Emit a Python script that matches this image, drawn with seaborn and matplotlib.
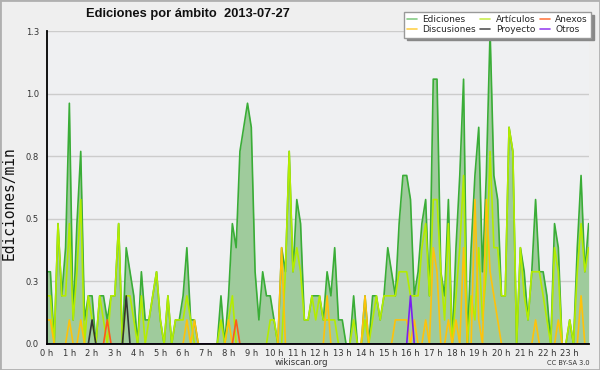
import numpy as np
import pandas as pd
import matplotlib
matplotlib.use("Agg")
import matplotlib.pyplot as plt
from matplotlib.lines import Line2D
from matplotlib.patches import Rectangle
from matplotlib.ticker import MultipleLocator
import seaborn as sns

# ---------------- data (edits per minute, 10-minute bins) ----------------
ediciones = [0.3, 0.3, 0.0, 0.5, 0.2, 0.4, 1.0, 0.1, 0.5, 0.8,
             0.1, 0.2, 0.2, 0.0, 0.2, 0.2, 0.1, 0.2, 0.2, 0.5,
             0.0, 0.4, 0.3, 0.2, 0.0, 0.3, 0.1, 0.1, 0.2, 0.3,
             0.1, 0.0, 0.2, 0.0, 0.1, 0.1, 0.2, 0.4, 0.1, 0.1,
             0.0, 0.0, 0.0, 0.0, 0.0, 0.0, 0.2, 0.0, 0.2, 0.5,
             0.4, 0.8, 0.9, 1.0, 0.9, 0.3, 0.1, 0.3, 0.2, 0.2,
             0.1, 0.0, 0.4, 0.3, 0.8, 0.3, 0.6, 0.5, 0.1, 0.1,
             0.2, 0.2, 0.2, 0.1, 0.3, 0.2, 0.4, 0.1, 0.1, 0.0,
             0.0, 0.2, 0.0, 0.0, 0.2, 0.0, 0.2, 0.2, 0.1, 0.2,
             0.4, 0.3, 0.2, 0.5, 0.7, 0.7, 0.6, 0.2, 0.3, 0.5,
             0.6, 0.2, 1.1, 1.1, 0.3, 0.2, 0.6, 0.0, 0.4, 0.7,
             1.1, 0.0, 0.4, 0.7, 0.9, 0.3, 0.7, 1.3, 0.7, 0.6,
             0.2, 0.2, 0.9, 0.8, 0.0, 0.4, 0.3, 0.1, 0.3, 0.6,
             0.3, 0.3, 0.2, 0.0, 0.5, 0.4, 0.0, 0.0, 0.1, 0.0,
             0.4, 0.7, 0.3, 0.5]

articulos = [0.2, 0.2, 0.0, 0.5, 0.2, 0.2, 0.5, 0.1, 0.3, 0.6,
             0.0, 0.2, 0.1, 0.0, 0.2, 0.1, 0.0, 0.2, 0.2, 0.5,
             0.0, 0.2, 0.2, 0.1, 0.0, 0.2, 0.0, 0.1, 0.2, 0.3,
             0.1, 0.0, 0.2, 0.0, 0.1, 0.1, 0.1, 0.2, 0.1, 0.0,
             0.0, 0.0, 0.0, 0.0, 0.0, 0.0, 0.1, 0.0, 0.1, 0.2,
             0.0, 0.0, 0.0, 0.0, 0.0, 0.0, 0.0, 0.0, 0.0, 0.1,
             0.1, 0.0, 0.0, 0.3, 0.8, 0.3, 0.4, 0.3, 0.1, 0.1,
             0.2, 0.1, 0.2, 0.1, 0.1, 0.1, 0.1, 0.0, 0.0, 0.0,
             0.0, 0.1, 0.0, 0.0, 0.1, 0.0, 0.1, 0.2, 0.1, 0.2,
             0.2, 0.2, 0.2, 0.3, 0.3, 0.3, 0.2, 0.2, 0.2, 0.4,
             0.5, 0.2, 0.6, 0.6, 0.3, 0.1, 0.5, 0.0, 0.2, 0.4,
             0.7, 0.0, 0.2, 0.1, 0.4, 0.1, 0.3, 0.8, 0.4, 0.4,
             0.2, 0.2, 0.9, 0.8, 0.0, 0.4, 0.2, 0.1, 0.3, 0.3,
             0.3, 0.2, 0.1, 0.0, 0.4, 0.3, 0.0, 0.0, 0.1, 0.0,
             0.3, 0.5, 0.3, 0.4]

# sparse series: time of bin -> edits/min (all other bins are 0)
discusiones_t = ["00:00", "00:10", "01:00", "01:30", "06:10", "06:30", "08:00",
                 "10:20", "12:20", "14:00", "15:20", "15:30", "15:40", "15:50",
                 "16:10", "16:40", "17:00", "17:10", "17:40", "18:00", "18:20",
                 "18:50", "19:00", "19:20", "19:30", "19:40", "19:50", "21:30",
                 "22:30", "23:30"]
discusiones_v = [0.1, 0.1, 0.1, 0.1, 0.1, 0.1, 0.1,
                 0.4, 0.2, 0.2, 0.1, 0.1, 0.1, 0.1,
                 0.1, 0.1, 0.4, 0.3, 0.1, 0.1, 0.4,
                 0.6, 0.1, 0.6, 0.3, 0.2, 0.1, 0.1,
                 0.1, 0.2]
anexos_t = ["02:40", "08:20"]
anexos_v = [0.1, 0.1]
proyecto_t = ["02:00", "03:30"]
proyecto_v = [0.1, 0.2]
otros_t = ["16:00"]
otros_v = [0.2]

hour_labels = [f"{h} h" for h in range(24)]
y_ticks = [0.0, 0.26, 0.52, 0.78, 1.04, 1.3]
y_tick_labels = ["0.0", "0.3", "0.5", "0.8", "1.0", "1.3"]
title = "Ediciones por ámbito  2013-07-27"

# ---------------- build table ----------------
n = len(ediciones)
hours = np.arange(n) / 6.0
times = [f"{i // 6:02d}:{(i % 6) * 10:02d}" for i in range(n)]


def expand(ts, vs):
    d = dict(zip(ts, vs))
    return [d.get(t, 0.0) for t in times]


df = pd.DataFrame({
    "hora": hours,
    "Ediciones": ediciones,
    "Artículos": articulos,
    "Discusiones": expand(discusiones_t, discusiones_v),
    "Anexos": expand(anexos_t, anexos_v),
    "Proyecto": expand(proyecto_t, proyecto_v),
    "Otros": expand(otros_t, otros_v),
})

# ---------------- style ----------------
sns.set_style("white")
plt.rcParams["font.family"] = ["DejaVu Sans"]

fig = plt.figure(figsize=(6, 3.7), dpi=100, facecolor="#efefef")
ax = fig.add_axes([0.0777, 0.0703, 0.904, 0.8459])
ax.set_facecolor("#eff0f2")

line_colors = {
    "Ediciones": "#3aad37",
    "Artículos": "#b4ec00",
    "Discusiones": "#ffc20a",
    "Anexos": "#ff5a1a",
    "Proyecto": "#333333",
    "Otros": "#7a1ff0",
}
legend_colors = {
    "Ediciones": "#86cc86",
    "Discusiones": "#ffd24d",
    "Artículos": "#c8ec50",
    "Proyecto": "#555555",
    "Anexos": "#ff7a45",
    "Otros": "#9a45f0",
}

ax.fill_between(df["hora"], 0, df["Ediciones"], color="#9fcb9c", lw=0, zorder=1)
for name in ["Ediciones", "Artículos", "Discusiones", "Anexos", "Proyecto", "Otros"]:
    sns.lineplot(data=df, x="hora", y=name, ax=ax, color=line_colors[name],
                 lw=1.2, legend=False, zorder=2)

ax.set_xlim(0, 23.85)
ax.set_ylim(0, 1.3)
ax.set_xticks(range(24))
ax.set_xticklabels(hour_labels)
ax.xaxis.set_minor_locator(MultipleLocator(1 / 6))
ax.set_yticks(y_ticks)
ax.set_yticklabels(y_tick_labels)
ax.set_yticks(np.linspace(0, 1.3, 26), minor=True)
ax.set_xlabel("")
ax.set_ylabel("")

ax.yaxis.grid(True, which="major", color="#cccccc", lw=1)
ax.xaxis.grid(False)
ax.set_axisbelow(True)

for s in ["top", "right"]:
    ax.spines[s].set_visible(False)
for s in ["left", "bottom"]:
    ax.spines[s].set_color("black")
    ax.spines[s].set_linewidth(1.3)
    ax.spines[s].set_zorder(3)

ax.tick_params(axis="y", which="major", direction="out", length=4, width=1,
               color="black", labelsize=6, labelcolor="#333333", pad=1.5)
ax.tick_params(axis="x", which="major", direction="out", length=3, width=1,
               color="black", labelsize=6, labelcolor="#333333", pad=0.5)
ax.tick_params(axis="both", which="minor", direction="out", length=2.5, width=1,
               color="black")

fig.text(0.3125, 0.962, title, ha="center", va="center", fontsize=9.3,
         fontweight="bold", family=["Liberation Sans", "DejaVu Sans"], color="#111111")
fig.text(0.015, 0.45, "Ediciones/min", rotation=90, ha="center", va="center",
         fontsize=10.5, family=["DejaVu Sans Mono"], color="#111111")
fig.text(0.5017, 0.019, "wikiscan.org", ha="center", va="center", fontsize=6.2,
         color="#333333")
fig.text(0.982, 0.019, "CC BY-SA 3.0", ha="right", va="center", fontsize=4.8,
         color="#333333")

order = ["Ediciones", "Discusiones", "Artículos", "Proyecto", "Anexos", "Otros"]
handles = [Line2D([], [], color=legend_colors[k], lw=1.2) for k in order]
leg = fig.legend(handles, order, ncol=3, loc="upper left",
                 bbox_to_anchor=(0.673, 0.968), fontsize=6.5, frameon=True,
                 fancybox=False, shadow={"color": "#888888", "alpha": 1},
                 framealpha=1, edgecolor="#999999", borderpad=0.35,
                 labelspacing=0.15, handlelength=1.1, handletextpad=0.6,
                 columnspacing=0.5, borderaxespad=0)
leg.get_frame().set_linewidth(1.0)

fig.add_artist(Rectangle((0, 0), 1, 1, transform=fig.transFigure, fill=False,
                         edgecolor="#b0b0b0", lw=2))

fig.savefig("out.png", dpi=100, facecolor=fig.get_facecolor())
